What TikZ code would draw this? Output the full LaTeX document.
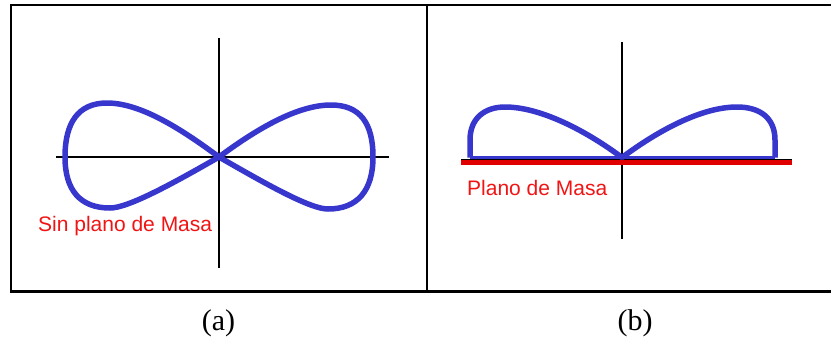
\documentclass[tikz,border=0pt]{standalone}
\usepackage{fontspec}
\setmainfont{Liberation Serif}
\newfontfamily\labsans{Liberation Sans}
\definecolor{lobeblue}{RGB}{55,55,205}
\definecolor{gndred}{RGB}{225,0,0}
\definecolor{txtred}{RGB}{240,20,20}
\tikzset{
  frame/.style={line width=2.3pt, black},
  axis/.style={line width=1.3pt, black},
  lobe/.style={line width=5.5pt, lobeblue, line join=round},
  redtext/.style={text=txtred, font=\labsans\fontsize{21}{24}\selectfont, inner sep=0pt},
  caption/.style={font=\fontsize{30}{34}\selectfont, inner sep=0pt}
}
\begin{document}
\begin{tikzpicture}[x=1pt, y=-1pt]
\useasboundingbox (0,0) rectangle (831,341);
% frame (right side cut off)
\draw[frame] (840,5) -- (11.3,5) -- (11.3,291.5) -- (840,291.5);
\draw[frame] (427,5) -- (427,291.5);

% ---------- panel (a) ----------
\coordinate (aT) at (219,38);
\coordinate (aB) at (219,268);
\coordinate (aL) at (56,157);
\coordinate (aR) at (389,157);
\coordinate (aC) at (219,157);
\draw[axis] (aT) -- (aB);
\draw[axis] (aL) -- (aR);
\draw[lobe] (aC) .. controls (180,128) and (140,103) .. (107,103)
  .. controls (78,103) and (65,123) .. (65,157)
  .. controls (65,190) and (80,208) .. (110,208)
  .. controls (128,208) and (172,184) .. (aC)
  .. controls (258,128) and (298,105) .. (331,105)
  .. controls (360,105) and (373,123) .. (373,157)
  .. controls (373,190) and (358,209) .. (328,209)
  .. controls (310,209) and (266,184) .. (aC) -- cycle;
\node[redtext, anchor=west] (sinplano) at (38,226.5) {Sin plano de Masa};

% ---------- panel (b) ----------
\coordinate (bT) at (622,42);
\coordinate (bB) at (622,239);
\coordinate (bL) at (461,159.5);
\coordinate (bR) at (792,159.5);
\coordinate (bC) at (622,157.5);
\coordinate (gL) at (461,162.5);
\coordinate (gR) at (792,162.5);
\coordinate (lL) at (470,157.5);
\coordinate (lR) at (775,157.5);
\draw[axis] (bT) -- (bB);
\draw[axis] (bL) -- (bR);
\draw[gndred, line width=4.5pt] (gL) -- (gR);
\draw[lobeblue, line width=3.2pt] (lL) -- (lR);
\draw[lobe] (lL) -- (470,140) .. controls (470,118) and (485,107) .. (505,107)
  .. controls (540,107) and (585,130) .. (bC)
  .. controls (659,130) and (702,107) .. (737,107)
  .. controls (760,107) and (775,118) .. (775,140) -- (lR);
\node[redtext, anchor=west] (plano) at (467,188) {Plano de Masa};

% ---------- captions ----------
\node[caption] (capa) at (218.5,323) {(a)};
\node[caption] (capb) at (635,323) {(b)};
\end{tikzpicture}
\end{document}
